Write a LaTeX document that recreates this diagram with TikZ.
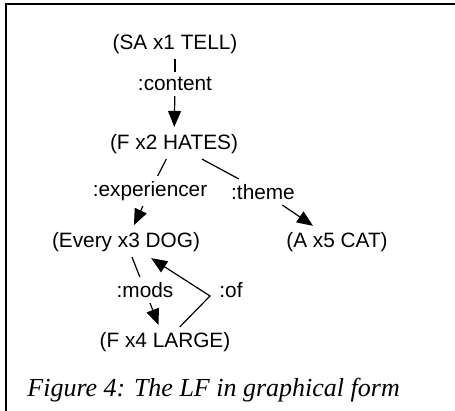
\documentclass[tikz,border=0pt]{standalone}
\usepackage{fontspec}
\setmainfont{Liberation Serif}
\setsansfont{Liberation Sans}
\usepackage{tikz}
\usetikzlibrary{arrows.meta}

\begin{document}
\begin{tikzpicture}
      [x = 0.5pt, y = -0.5pt,
      term/.style= {
         inner sep = 2.5pt,
         font = \sffamily\fontsize{10.4}{12}\selectfont
      },
      role/.style= {
         inner sep = 2.5pt,
         font = \sffamily\fontsize{10.4}{12}\selectfont
      },
      link/.style= {line width = 0.6pt},
      arc/.style= {
         line width = 0.6pt,
         -{Triangle[length = 8pt, width = 6.5pt]},
         shorten >= 1pt
      }]

      \useasboundingbox (0, 0) rectangle (455, 411);

      % frame
      \draw[line width = 0.8pt] (6, 411) -- (6, 4) -- (455, 4);

      \node[term] (tell)  at (175, 44)  {(SA x1 TELL)};
      \node[term] (hates) at (174, 144) {(F x2 HATES)};
      \node[term] (dog)   at (126, 242) {(Every x3 DOG)};
      \node[term] (large) at (165, 342) {(F x4 LARGE)};
      \node[term] (cat)   at (337, 242) {(A x5 CAT)};

      \node[role] (content) at (175, 84)  {:content};
      \node[role] (exper)   at (150, 191) {:experiencer};
      \node[role] (theme)   at (263, 192) {:theme};
      \node[role] (mods)    at (145, 290) {:mods};
      \coordinate (ofbend) at (210, 296);
      \node[role] (of)      at (231, 290) {:of};

      \draw[link] (tell) -- (content);
      \draw[arc]  (content) -- (hates);

      \draw[link] (hates) -- (exper);
      \draw[arc]  (exper) -- (dog);

      \draw[link] (hates) -- (theme);
      \draw[arc]  (theme) -- (cat);

      \draw[link] (dog) -- (mods);
      \draw[arc]  (mods) -- (large);

      \draw[arc]  (large) -- (ofbend) -- (dog);

      \node[anchor = base west, inner sep = 0pt, font = \itshape\fontsize{13}{15}\selectfont]
         (caption) at (27, 396) {Figure 4: The LF in graphical form};

   \end{tikzpicture}
\end{document}
